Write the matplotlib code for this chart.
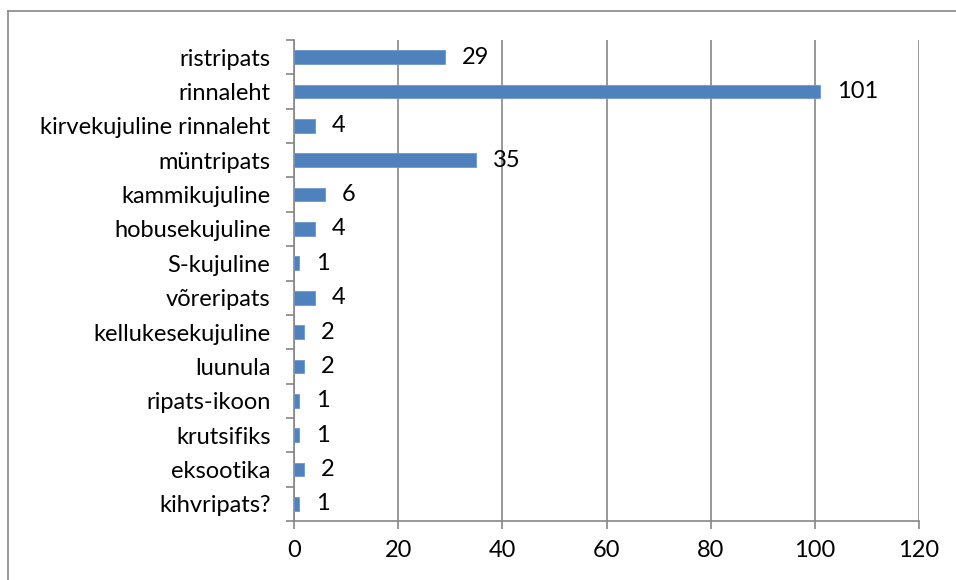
import matplotlib
matplotlib.use('Agg')
import matplotlib.pyplot as plt
from matplotlib.lines import Line2D
import numpy as np

# category labels, top to bottom as in the chart
categories = ['ristripats', 'rinnaleht', 'kirvekujuline rinnaleht', 'müntripats',
              'kammikujuline', 'hobusekujuline', 'S-kujuline', 'võreripats',
              'kellukesekujuline', 'luunula', 'ripats-ikoon', 'krutsifiks',
              'eksootika', 'kihvripats?']
counts = [29, 101, 4, 35, 6, 4, 1, 4, 2, 2, 1, 1, 2, 1]
x_ticks = [0, 20, 40, 60, 80, 100, 120]

bar_color = '#4F81BD'
axis_color = '#868686'
fsize = 17

plt.rcParams['font.family'] = ['Lato', 'DejaVu Sans']

fig = plt.figure(figsize=(9.56, 5.8), dpi=100)
W, H = 956, 580
ax = fig.add_axes([294 / W, 1 - 521 / H, (919 - 294) / W, (521 - 40) / H])

n = len(categories)
y = np.arange(n)[::-1]
ax.barh(y, counts, height=0.4, color=bar_color, edgecolor='#6F97CB', linewidth=0.6, zorder=3)

for yi, v in zip(y, counts):
    ax.annotate(str(v), (v, yi), xytext=(12, 0), textcoords='offset points',
                ha='left', va='center', fontsize=fsize, color='black')

ax.set_xlim(0, 120)
ax.set_ylim(-0.5, n - 0.5)
ax.set_xticks(x_ticks)
ax.set_xticklabels([str(t) for t in x_ticks], fontsize=fsize)
ax.xaxis.grid(True, color=axis_color, linewidth=1.2, zorder=0)
ax.set_axisbelow(True)

ax.set_yticks(y)
ax.set_yticklabels(categories, fontsize=fsize)
ax.tick_params(axis='y', length=0, pad=17)
ax.set_yticks(np.arange(-0.5, n, 1), minor=True)
ax.tick_params(axis='y', which='minor', length=6, color=axis_color, width=1.2)
ax.tick_params(axis='x', length=6, color=axis_color, width=1.2, pad=8)

for side in ['top', 'right']:
    ax.spines[side].set_visible(False)
for side in ['left', 'bottom']:
    ax.spines[side].set_color(axis_color)
    ax.spines[side].set_linewidth(1.2)

# outer chart frame (runs past the image on the right and bottom)
fig.add_artist(Line2D([8 / W, 1.01], [1 - 11 / H, 1 - 11 / H], color=axis_color, linewidth=1.2))
fig.add_artist(Line2D([8 / W, 8 / W], [1 - 11 / H, -0.01], color=axis_color, linewidth=1.2))

fig.savefig('out.png', dpi=100)
